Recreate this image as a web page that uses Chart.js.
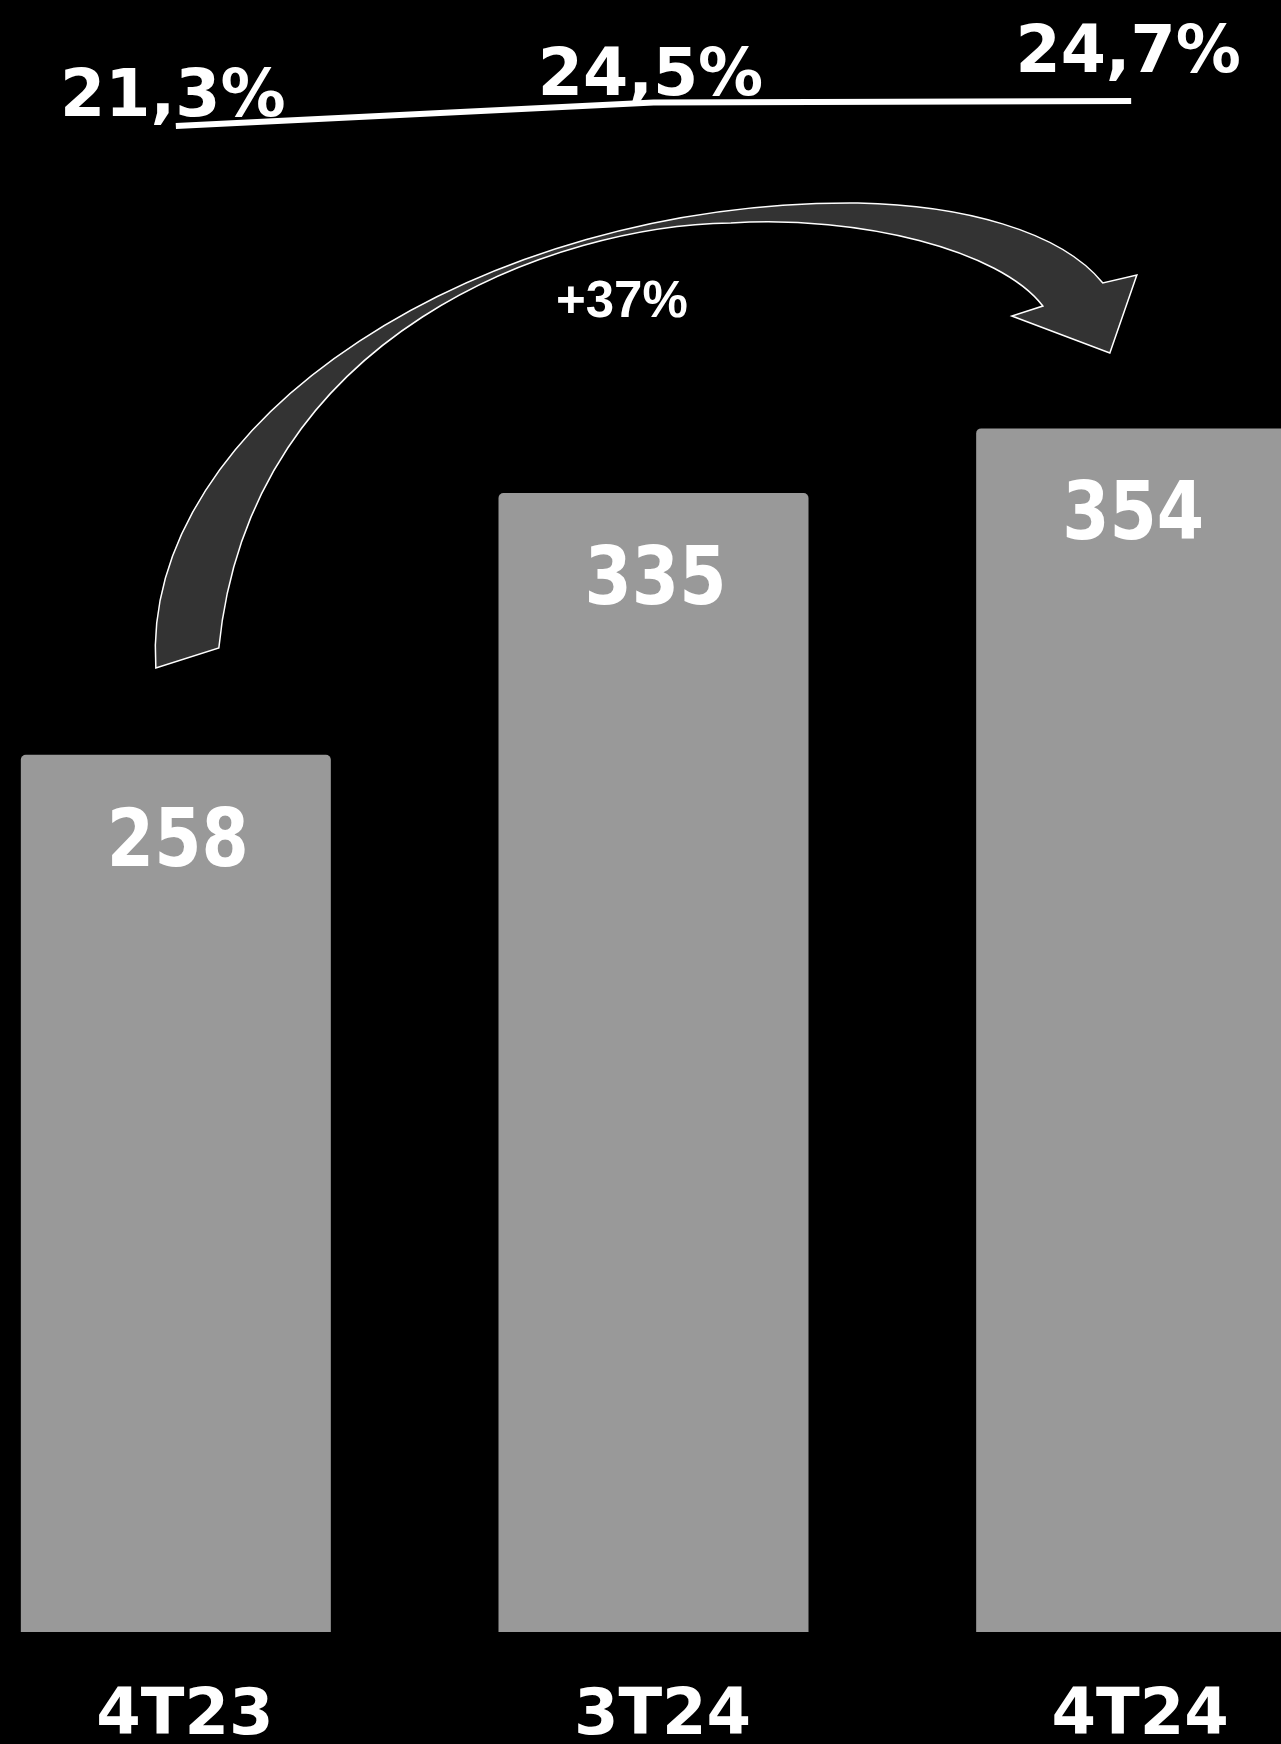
<!DOCTYPE html>
<html>
<head>
<meta charset="utf-8">
<script src="https://cdn.jsdelivr.net/npm/chart.js@4.4.1/dist/chart.umd.min.js"></script>
<style>
  html, body { margin: 0; padding: 0; background: #000; overflow: hidden; }
  #wrap { position: relative; width: 1281px; height: 1744px; overflow: hidden; }
  #chart { position: absolute; left: -63px; top: 0; }
</style>
</head>
<body>
<div id="wrap"><canvas id="chart" width="1433" height="1744"></canvas></div>
<script>
// --- Datos ---
const categories   = ['4T23', '3T24', '4T24'];
const barValues    = [258, 335, 354];
const marginValues = [21.3, 24.5, 24.7];
const marginLabels = ['21,3%', '24,5%', '24,7%'];
const growthLabel  = '+37%';

const FONT = "'DejaVu Sans', Verdana, sans-serif";

// etiquetas blancas dentro de cada barra (algo estiradas en vertical)
const barLabels = {
  id: 'barLabels',
  afterDatasetsDraw(chart) {
    const { ctx } = chart;
    const meta = chart.getDatasetMeta(1);
    ctx.save();
    ctx.fillStyle = '#fff';
    ctx.font = `bold 68px ${FONT}`;
    ctx.textAlign = 'center';
    ctx.textBaseline = 'alphabetic';
    meta.data.forEach((bar, i) => {
      ctx.save();
      ctx.translate(bar.x + 2, bar.y + 111);
      ctx.scale(1, 1.18);
      ctx.fillText(String(barValues[i]), 0, 0);
      ctx.restore();
    });
    ctx.restore();
  }
};

// etiquetas del margen sobre la línea
const lineLabels = {
  id: 'lineLabels',
  afterDatasetsDraw(chart, args, opts) {
    const { ctx } = chart;
    const meta = chart.getDatasetMeta(0);
    ctx.save();
    ctx.fillStyle = '#fff';
    ctx.font = `bold 65px ${FONT}`;
    ctx.textAlign = 'center';
    ctx.textBaseline = 'alphabetic';
    meta.data.forEach((pt, i) => {
      ctx.fillText(marginLabels[i], pt.x - 3, pt.y - opts.offsets[i]);
    });
    ctx.restore();
  }
};

// flecha curva con el crecimiento
const growthArrow = {
  id: 'growthArrow',
  beforeDatasetsDraw(chart) {
    const { ctx, scales: { x } } = chart;
    const ox = x.getPixelForValue(0) - 176;
    const P = (px, py) => [px + ox, py];
    ctx.save();
    ctx.beginPath();
    ctx.moveTo(...P(156, 668));
    ctx.bezierCurveTo(...P(140, 420), ...P(480, 200), ...P(858, 203));
    ctx.bezierCurveTo(...P(960, 205), ...P(1060, 230), ...P(1103, 283));
    ctx.lineTo(...P(1137, 275));
    ctx.lineTo(...P(1110, 353));
    ctx.lineTo(...P(1012, 316));
    ctx.lineTo(...P(1043, 306));
    ctx.bezierCurveTo(...P(1000, 250), ...P(860, 215), ...P(731, 223));
    ctx.bezierCurveTo(...P(560, 225), ...P(250, 330), ...P(219, 648));
    ctx.closePath();
    ctx.fillStyle = '#333333';
    ctx.fill();
    ctx.strokeStyle = '#ffffff';
    ctx.lineWidth = 1.5;
    ctx.stroke();

    ctx.fillStyle = '#fff';
    ctx.font = "bold 51px 'Liberation Sans', Arial, sans-serif";
    ctx.textAlign = 'center';
    ctx.textBaseline = 'alphabetic';
    ctx.fillText(growthLabel, ...P(622, 317));
    ctx.restore();
  }
};

new Chart(document.getElementById('chart').getContext('2d'), {
  type: 'bar',
  data: {
    labels: categories,
    datasets: [
      {
        type: 'line',
        data: marginValues,
        yAxisID: 'y1',
        borderColor: '#ffffff',
        borderWidth: 6,
        pointRadius: 0,
        tension: 0,
        order: 0
      },
      {
        type: 'bar',
        data: barValues,
        yAxisID: 'y',
        backgroundColor: '#999999',
        borderRadius: { topLeft: 5, topRight: 5, bottomLeft: 0, bottomRight: 0 },
        borderSkipped: false,
        barPercentage: 0.649,
        categoryPercentage: 1,
        order: 1
      }
    ]
  },
  plugins: [growthArrow, barLabels, lineLabels],
  options: {
    responsive: false,
    animation: false,
    layout: { padding: 0 },
    plugins: {
      legend: { display: false },
      tooltip: { enabled: false },
      lineLabels: { offsets: [10, 7, 29] }
    },
    scales: {
      x: {
        grid: { display: false, drawTicks: false },
        border: { display: false },
        ticks: {
          color: '#ffffff',
          padding: 47,
          labelOffset: 9,
          font: { family: FONT, size: 64, weight: 'bold' }
        },
        afterFit: s => { s.height = 112; }
      },
      y:  { display: false, min: 0, max: 480 },
      y1: { display: false, min: -183.6, max: 38.44 }
    }
  }
});
</script>
</body>
</html>
